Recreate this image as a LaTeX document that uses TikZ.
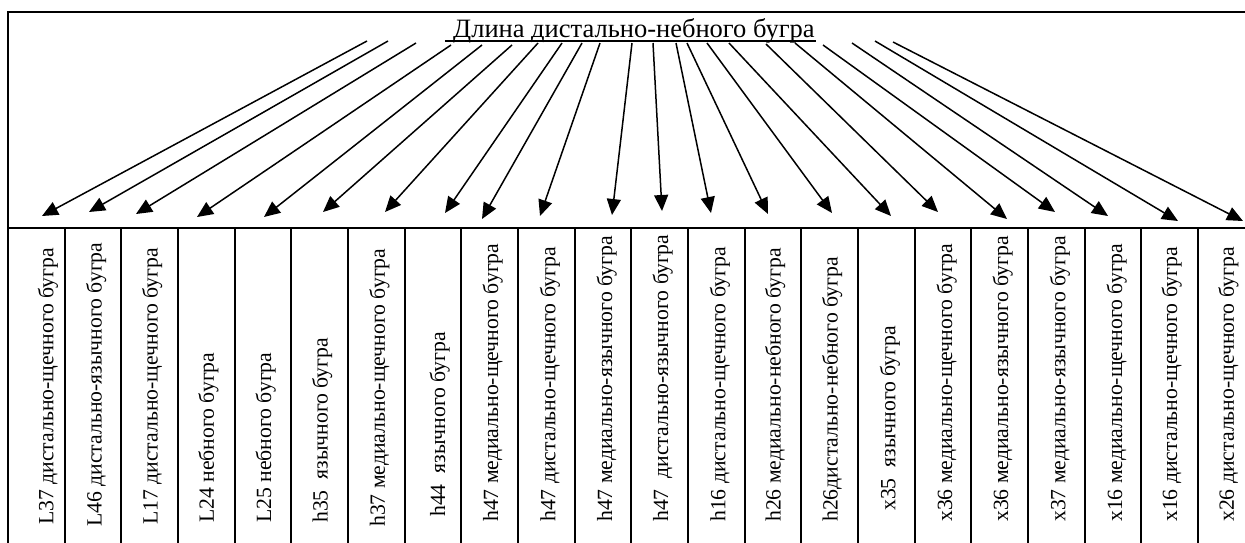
\documentclass[tikz,border=0pt]{standalone}
\usepackage{fontspec}
\setmainfont{Liberation Serif}
\usetikzlibrary{arrows.meta}
\begin{document}
\begin{tikzpicture}[x=1pt,y=-1pt,
  frame/.style={line width=2pt},
  arr/.style={line width=1.5pt,-{Triangle[length=16pt,width=14pt]}},
  coltext/.style={rotate=90,anchor=base west,inner sep=0pt,font=\fontsize{21.7}{24}\selectfont},
  titletext/.style={anchor=base west,inner sep=0pt,font=\fontsize{26.5}{30}\selectfont}]
\clip (0,0) rectangle (1245,542);
\fill[white] (0,0) rectangle (1245,542);
% frame and table grid
\draw[frame] (8,560) -- (8,12) -- (1260,12);
\draw[frame] (8,228) -- (1260,228);
\foreach \k in {1,...,21} \draw[frame] ({8+56.667*\k},228) -- ({8+56.667*\k},560);
% title
\node[titletext] (title) at (453,37) {Длина дистально-небного бугра};
\draw[line width=1.6pt] ([xshift=-8pt,yshift=-4pt]title.base west) -- ([xshift=1pt,yshift=-4pt]title.base east);
% column labels
\foreach \k/\dx/\yy/\txt in {
 1/17/525/L37 дистально-щечного бугра,
 2/8.5/527/L46 дистально-язычного бугра,
 3/8/525/L17 дистально-щечного бугра,
 4/7.5/523/L24 небного бугра,
 5/8/523/L25 небного бугра,
 6/8/523/h35~ язычного бугра,
 7/8.5/527/h37 медиально-щечного бугра,
 8/12/517/h44~ язычного бугра,
 9/8.5/522/h47 медиально-щечного бугра,
 10/9/522/h47 дистально-щечного бугра,
 11/9/522/h47 медиально-язычного бугра,
 12/8.5/522/h47~ дистально-язычного бугра,
 13/9/522/h16 дистально-щечного бугра,
 14/7.5/522/h26 медиально-небного бугра,
 15/8/522/h26дистально-небного бугра,
 16/9/511/x35~ язычного бугра,
 17/9/522/x36 медиально-щечного бугра,
 18/8.5/522/x36 медиально-язычного бугра,
 19/9/522/x37 медиально-язычного бугра,
 20/9/522/x16 медиально-щечного бугра,
 21/7.5/522/x16 дистально-щечного бугра,
 22/7.5/522/x26 дистально-щечного бугра}
 \node[coltext] (c\k) at ({8+56.667*(\k-0.5)+\dx},\yy) {\txt};
% arrows
\foreach \k/\sx/\sy/\tx/\ty in {
 1/367/41/42/216, 2/388/41/89/212, 3/416/43/136/214, 4/451/45/197/217,
 5/482/45/264/217, 6/512/45/323/212, 7/538/43/385/212, 8/562/43/445/213,
 9/582/43/482/219, 10/600/43/540/216, 11/632/43/612/215, 12/653/43/662/211,
 13/676/43/711/213, 14/687/43/768/214, 15/707/43/832/213, 16/729/43/891/216,
 17/766/44/938/212, 18/795/43/1007/219, 19/823/45/1055/212, 20/852/43/1108/216,
 21/875/41/1178/221, 22/893/42/1243/221}
 {
 \coordinate (s\k) at (\sx,\sy);
 \coordinate (t\k) at (\tx,\ty);
 \draw[arr] (s\k) -- (t\k);
 }
\end{tikzpicture}
\end{document}
